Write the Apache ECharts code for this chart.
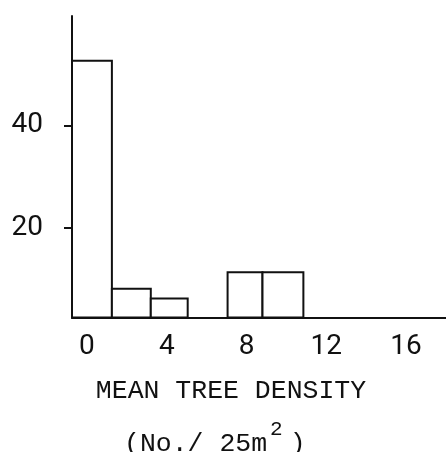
<!DOCTYPE html>
<html>
<head>
<meta charset="utf-8">
<script src="https://cdn.jsdelivr.net/npm/echarts@6/dist/echarts.min.js"></script>
<style>
  html, body { margin: 0; padding: 0; background: #fff; }
  #chart { width: 446px; height: 452px; }
</style>
</head>
<body>
<div id="chart"></div>
<script>
// Histogram bins: left edge, right edge and height of each bar
const binStart = [-0.75, 1.25, 3.2, 7.05, 8.8];
const binEnd   = [1.25, 3.2, 5.05, 8.8, 10.85];
const counts   = [52.6, 8.2, 6.3, 11.4, 11.4];

// Tick labels on each axis
const xTickValues = [0, 4, 8, 12, 16];
const yTickValues = [20, 40];

// Axis extents
const xMin = -0.75, xMax = 18;
const yMin = 2.6, yMax = 61.3;

const FONT = '"Liberation Mono", "DejaVu Sans Mono", monospace';
const NUM_FONT = 'Roboto, "DejaVu Sans", sans-serif';
const INK = '#111';

const bins = binStart.map((s, i) => [s, binEnd[i], counts[i]]);

const chart = echarts.init(document.getElementById('chart'), null, { renderer: 'canvas' });

chart.setOption({
  animation: false,
  backgroundColor: '#fff',
  grid: { left: 72, right: 0, top: 16, height: 301.5 },
  xAxis: {
    type: 'value',
    min: xMin,
    max: xMax,
    splitLine: { show: false },
    axisLine: { show: true, onZero: false, lineStyle: { color: INK, width: 2 } },
    axisTick: { show: false },
    axisLabel: {
      customValues: xTickValues,
      margin: 15,
      color: INK,
      fontFamily: NUM_FONT,
      fontSize: 28
    }
  },
  yAxis: {
    type: 'value',
    min: yMin,
    max: yMax,
    splitLine: { show: false },
    axisLine: { show: true, onZero: false, lineStyle: { color: INK, width: 2 } },
    axisTick: {
      show: true,
      customValues: yTickValues,
      length: 8,
      lineStyle: { color: INK, width: 2 }
    },
    axisLabel: {
      customValues: yTickValues,
      margin: 29,
      color: INK,
      fontFamily: NUM_FONT,
      fontSize: 28
    }
  },
  series: [{
    type: 'custom',
    data: bins,
    encode: { x: [0, 1], y: 2 },
    renderItem: function (params, api) {
      const top = api.coord([api.value(0), api.value(2)]);
      const bottom = api.coord([api.value(1), yMin]);
      return {
        type: 'rect',
        shape: {
          x: top[0],
          y: top[1],
          width: bottom[0] - top[0],
          height: bottom[1] - top[1]
        },
        style: { fill: '#fff', stroke: INK, lineWidth: 2 }
      };
    }
  }],
  graphic: [
    {
      type: 'text',
      x: 231,
      y: 391,
      style: {
        text: 'MEAN TREE DENSITY',
        fill: INK,
        font: '26.5px ' + FONT,
        align: 'center',
        verticalAlign: 'middle'
      }
    },
    {
      type: 'text',
      x: 124,
      y: 438,
      style: {
        text: '{a|(No./ 25m}{s|2}{a|)}',
        fill: INK,
        verticalAlign: 'middle',
        rich: {
          a: { fontFamily: FONT, fontSize: 26.5, fill: INK, verticalAlign: 'bottom' },
          s: { fontFamily: FONT, fontSize: 21, fill: INK, verticalAlign: 'bottom',
               padding: [0, 7, 18, 3] }
        }
      }
    }
  ]
});
</script>
</body>
</html>
